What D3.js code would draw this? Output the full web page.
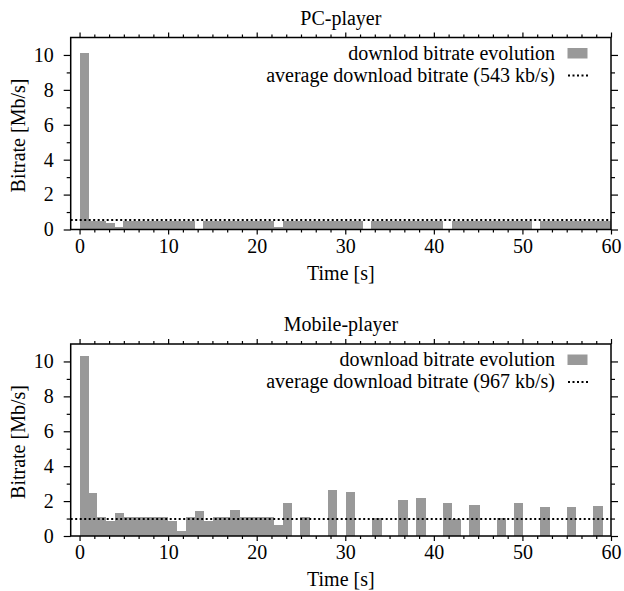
<!DOCTYPE html>
<html>
<head>
<meta charset="utf-8">
<script src="https://cdn.jsdelivr.net/npm/d3@7"></script>
<style>
  body { margin: 0; background: #fff; }
  svg text { font-family: "Liberation Serif", "Times New Roman", serif; font-size: 20px; fill: #000; }
</style>
</head>
<body>
<svg id="chart" width="624" height="591"></svg>
<script>
// PC player: download intervals [start, end] in seconds and bitrate in Mb/s
const pcStart = [0, 1.09, 2.98, 4.03, 4.94, 13.97, 22.0, 23.0, 32.9, 42.0, 52.0];
const pcEnd   = [1.09, 2.98, 4.03, 4.94, 13.07, 22.0, 23.0, 32.0, 41.0, 51.1, 60.0];
const pcRate  = [10.12, 0.47, 0.36, 0.13, 0.47, 0.47, 0.13, 0.47, 0.47, 0.47, 0.47];
const pcAvg = 0.543;

// Mobile player
const mobStart = [0, 1.09, 1.96, 2.98, 4.03, 5.05, 9.94, 11.0, 12.05, 13.07, 14.09, 15.03, 17.02, 18.15,
  21.96, 23.0, 24.9, 28.0, 30.06, 33.0, 36.0, 38.0, 41.0, 42.1, 44.0, 47.1, 49.1, 52.0, 55.0, 58.0];
const mobEnd = [1.09, 1.96, 2.98, 4.03, 5.05, 9.94, 11.0, 12.05, 13.07, 14.09, 15.03, 17.02, 18.15, 21.96,
  23.0, 24.03, 26.0, 29.1, 31.15, 34.1, 37.1, 39.06, 42.1, 43.1, 45.2, 48.2, 50.1, 53.1, 56.1, 59.1];
const mobRate = [10.34, 2.47, 1.08, 0.88, 1.31, 1.08, 0.88, 0.3, 1.08, 1.42, 0.88, 1.08, 1.48, 1.08,
  0.63, 1.88, 1.08, 2.62, 2.53, 1.03, 2.05, 2.17, 1.88, 0.97, 1.77, 1.03, 1.88, 1.65, 1.65, 1.71];
const mobAvg = 0.967;

const xTicks = [0, 10, 20, 30, 40, 50, 60];
const yTicks = [0, 2, 4, 6, 8, 10];

const svg = d3.select('#chart');
const barColor = '#999999';

const x = d3.scaleLinear().domain([-1, 60]).range([70.7, 611]);
const xMinor = d3.range(0, 60.001, 10 / 6).filter(v => xTicks.every(t => Math.abs(t - v) > 1e-6));
const yMinor = d3.range(1, 11, 2);

function drawPanel(opts) {
  const y = d3.scaleLinear().domain([0, 11]).range([opts.bottom, opts.bottom - 192]);
  const top = y(11), bottom = y(0);
  const left = x.range()[0], right = x.range()[1];
  const g = svg.append('g');

  const bars = opts.start.map((s, i) => ({ s, e: opts.end[i], v: opts.rate[i] }));
  g.selectAll('rect.bar')
    .data(bars)
    .join('rect')
    .attr('class', 'bar')
    .attr('x', d => x(d.s))
    .attr('width', d => x(d.e) - x(d.s))
    .attr('y', d => y(d.v))
    .attr('height', d => y(0) - y(d.v))
    .attr('fill', barColor)
    .attr('shape-rendering', 'crispEdges');

  // average line
  g.append('line')
    .attr('x1', left).attr('x2', right)
    .attr('y1', y(opts.avg)).attr('y2', y(opts.avg))
    .attr('stroke', '#000')
    .attr('stroke-width', 2)
    .attr('stroke-dasharray', '2,2.5');

  // axes (ticks out, mirrored)
  const fixAxis = sel => { sel.select('.domain').remove(); sel.selectAll('line').attr('stroke-width', 1.2); sel.selectAll('text').attr('font-size', null).attr('font-family', null); };

  g.append('g').attr('transform', `translate(0,${bottom})`)
    .call(d3.axisBottom(x).tickValues(xTicks).tickSize(5).tickPadding(4)).call(fixAxis);
  g.append('g').attr('transform', `translate(0,${bottom})`)
    .call(d3.axisBottom(x).tickValues(xMinor).tickSize(3).tickFormat('')).call(fixAxis);
  g.append('g').attr('transform', `translate(0,${top})`)
    .call(d3.axisTop(x).tickValues(xTicks).tickSize(5).tickFormat('')).call(fixAxis);
  g.append('g').attr('transform', `translate(0,${top})`)
    .call(d3.axisTop(x).tickValues(xMinor).tickSize(3).tickFormat('')).call(fixAxis);

  g.append('g').attr('transform', `translate(${left},0)`)
    .call(d3.axisLeft(y).tickValues(yTicks).tickSize(7).tickPadding(10)).call(fixAxis);
  g.append('g').attr('transform', `translate(${left},0)`)
    .call(d3.axisLeft(y).tickValues(yMinor).tickSize(4).tickFormat('')).call(fixAxis);
  g.append('g').attr('transform', `translate(${right},0)`)
    .call(d3.axisRight(y).tickValues(yTicks).tickSize(7).tickFormat('')).call(fixAxis);
  g.append('g').attr('transform', `translate(${right},0)`)
    .call(d3.axisRight(y).tickValues(yMinor).tickSize(4).tickFormat('')).call(fixAxis);

  // frame
  g.append('rect')
    .attr('x', left).attr('y', top)
    .attr('width', right - left).attr('height', bottom - top)
    .attr('fill', 'none').attr('stroke', '#000').attr('stroke-width', 1.5);

  // titles
  g.append('text').attr('x', (left + right) / 2).attr('y', top - 13)
    .attr('text-anchor', 'middle').text(opts.title);
  g.append('text').attr('x', (left + right) / 2).attr('y', bottom + 50)
    .attr('text-anchor', 'middle').text('Time [s]');
  g.append('text')
    .attr('transform', `translate(17.5,${(top + bottom) / 2 + 2}) rotate(-90)`)
    .attr('text-anchor', 'middle').attr('dy', '0.35em')
    .text('Bitrate [Mb/s]');

  // legend
  const lg = g.append('g');
  lg.append('text').attr('x', 555).attr('y', top + 22).attr('text-anchor', 'end').text(opts.label1);
  lg.append('rect').attr('x', 567.5).attr('y', top + 10.5).attr('width', 20).attr('height', 10.5).attr('fill', barColor);
  lg.append('text').attr('x', 555).attr('y', top + 44).attr('text-anchor', 'end').text(opts.label2);
  lg.append('line').attr('x1', 568).attr('x2', 588).attr('y1', top + 38).attr('y2', top + 38)
    .attr('stroke', '#000').attr('stroke-width', 2).attr('stroke-dasharray', '2,2.5');
}

drawPanel({
  bottom: 229.5, title: 'PC-player',
  start: pcStart, end: pcEnd, rate: pcRate, avg: pcAvg,
  label1: 'downlod bitrate evolution',
  label2: 'average download bitrate (543 kb/s)'
});

drawPanel({
  bottom: 536, title: 'Mobile-player',
  start: mobStart, end: mobEnd, rate: mobRate, avg: mobAvg,
  label1: 'download bitrate evolution',
  label2: 'average download bitrate (967 kb/s)'
});
</script>
</body>
</html>
